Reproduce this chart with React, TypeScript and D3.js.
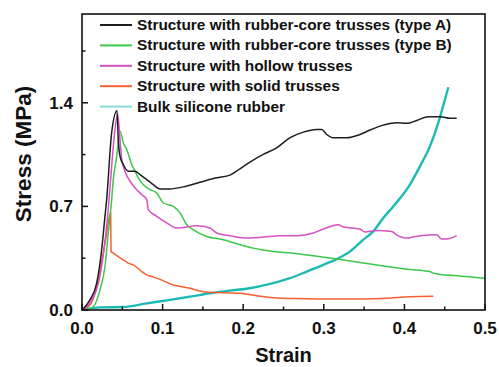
import React from "react";
import * as d3 from "d3";

type P = [number, number];

const typeA: P[] = [
  [0, 0], [0.0099, 0.068], [0.0182, 0.181], [0.0244, 0.407], [0.0285, 0.633], [0.0306, 0.746],
  [0.0368, 1.198], [0.0434, 1.346], [0.045, 1.153], [0.0471, 1.039], [0.0512, 0.983], [0.0574, 0.938],
  [0.0658, 0.938], [0.072, 0.915], [0.0803, 0.881], [0.0885, 0.847], [0.0968, 0.817], [0.1092, 0.818],
  [0.1257, 0.832], [0.1464, 0.863], [0.1671, 0.893], [0.1836, 0.911], [0.196, 0.954], [0.2084, 0.999],
  [0.2249, 1.051], [0.2416, 1.096], [0.2581, 1.164], [0.2746, 1.202], [0.2912, 1.22], [0.2974, 1.22],
  [0.3036, 1.186], [0.3118, 1.164], [0.3284, 1.164], [0.3449, 1.186], [0.3573, 1.216], [0.3738, 1.249],
  [0.3904, 1.266], [0.4029, 1.261], [0.4153, 1.281], [0.4297, 1.306], [0.4442, 1.306], [0.4566, 1.295],
  [0.4649, 1.295],
];

const typeB: P[] = [
  [0, 0], [0.0074, 0.007], [0.014, 0.022], [0.0223, 0.136], [0.0285, 0.294], [0.0326, 0.52],
  [0.0368, 0.746], [0.0388, 0.881], [0.0431, 1.039], [0.0471, 1.209], [0.0512, 1.13], [0.0555, 1.085],
  [0.0617, 0.983], [0.0658, 0.938], [0.0699, 0.893], [0.0761, 0.847], [0.0844, 0.814], [0.0927, 0.791],
  [0.1009, 0.723], [0.1133, 0.7], [0.1216, 0.656], [0.1299, 0.576], [0.1381, 0.542], [0.1547, 0.497],
  [0.1753, 0.475], [0.196, 0.441], [0.2125, 0.418], [0.2373, 0.395], [0.2622, 0.384], [0.287, 0.366],
  [0.316, 0.344], [0.349, 0.317], [0.378, 0.294], [0.4029, 0.276], [0.4318, 0.26], [0.4359, 0.249],
  [0.4649, 0.231], [0.5, 0.215],
];

const hollow: P[] = [
  [0, 0], [0.0124, 0.068], [0.0211, 0.197], [0.0273, 0.407], [0.0323, 0.664], [0.0372, 0.997],
  [0.0409, 1.22], [0.0443, 1.322], [0.0471, 1.153], [0.0493, 1.017], [0.0533, 0.938], [0.0596, 0.87],
  [0.0658, 0.825], [0.0741, 0.78], [0.0803, 0.746], [0.0823, 0.678], [0.0927, 0.633], [0.1051, 0.588],
  [0.1175, 0.554], [0.1423, 0.569], [0.1588, 0.554], [0.1671, 0.52], [0.1836, 0.502], [0.2043, 0.486],
  [0.2249, 0.493], [0.2457, 0.502], [0.2664, 0.502], [0.287, 0.52], [0.2994, 0.547], [0.318, 0.576],
  [0.3242, 0.561], [0.3449, 0.547], [0.3511, 0.527], [0.3656, 0.538], [0.3842, 0.531], [0.3904, 0.508],
  [0.4029, 0.486], [0.4194, 0.502], [0.4401, 0.508], [0.4463, 0.479], [0.4525, 0.479], [0.4649, 0.502],
];

const solid: P[] = [
  [0, 0], [0.0099, 0.034], [0.0174, 0.136], [0.0236, 0.305], [0.0298, 0.495], [0.0356, 0.658],
  [0.036, 0.395], [0.0388, 0.384], [0.045, 0.361], [0.0512, 0.339], [0.0574, 0.317], [0.0636, 0.305],
  [0.0741, 0.26], [0.0803, 0.237], [0.0865, 0.226], [0.0968, 0.207], [0.1133, 0.169], [0.134, 0.147],
  [0.1505, 0.124], [0.1753, 0.117], [0.196, 0.113], [0.2167, 0.097], [0.2373, 0.083], [0.2622, 0.077],
  [0.2953, 0.075], [0.316, 0.075], [0.349, 0.075], [0.378, 0.079], [0.407, 0.09], [0.4359, 0.093],
];

const bulk: P[] = [
  [0, 0], [0.0223, 0.018], [0.0512, 0.02], [0.0803, 0.045], [0.1092, 0.068], [0.134, 0.09],
  [0.1588, 0.113], [0.1836, 0.131], [0.2084, 0.147], [0.2333, 0.176], [0.2581, 0.215], [0.2788, 0.26],
  [0.2994, 0.305], [0.316, 0.344], [0.3325, 0.395], [0.349, 0.475], [0.3614, 0.531], [0.3738, 0.622],
  [0.3862, 0.7], [0.4069, 0.847], [0.4194, 0.972], [0.4318, 1.107], [0.4421, 1.266], [0.4504, 1.424],
  [0.4545, 1.505],
];

const seriesNames = [
  "Structure with rubber-core trusses (type A)",
  "Structure with rubber-core trusses (type B)",
  "Structure with hollow trusses",
  "Structure with solid trusses",
  "Bulk silicone rubber",
];
const seriesData = [typeA, typeB, hollow, solid, bulk];
const seriesColors = ["#1e1e1e", "#3cc84a", "#d452c2", "#f5602e", "#1dbab3"];
const legendColors = ["#1e1e1e", "#3cc84a", "#d452c2", "#f5602e", "#86dcd8"];

const xMajor = [0, 0.1, 0.2, 0.3, 0.4, 0.5];
const xMinor = [0.05, 0.15, 0.25, 0.35, 0.45];
const yMajor = [0, 0.7, 1.4];
const yMinor = [0.35, 1.05, 1.75];

const W = 499, H = 367;
const L = 82, R = 485, T = 14, B = 310;

export default function App() {
  const x = d3.scaleLinear().domain([0, 0.5]).range([L, R]);
  const y = d3.scaleLinear().domain([0, 2.0]).range([B, T]);
  const line = d3.line<P>().x((d) => x(d[0])).y((d) => y(d[1])).curve(d3.curveMonotoneX);
  const font = "'Liberation Sans', Arial, sans-serif";
  const order = [4, 3, 1, 2, 0];
  return (
    <svg width={W} height={H} style={{ position: "absolute", left: 0, top: 0, background: "#fff" }} fontFamily={font}>
      <rect x={0} y={0} width={W} height={H} fill="#fff" />
      <defs>
        <clipPath id="plot">
          <rect x={L} y={T} width={R - L} height={B - T} />
        </clipPath>
      </defs>
      <g clipPath="url(#plot)">
        {order.map((i) => (
          <path key={i} d={line(seriesData[i]) || ""} fill="none" stroke={seriesColors[i]}
            strokeWidth={i === 4 ? 2.4 : 1.5} strokeLinejoin="round" />
        ))}
      </g>
      <rect x={L} y={T} width={R - L} height={B - T} fill="none" stroke="#111" strokeWidth={1.6} />
      {xMajor.map((v) => (
        <line key={"xM" + v} x1={x(v)} x2={x(v)} y1={B} y2={B - 6} stroke="#111" strokeWidth={1.5} />
      ))}
      {xMinor.map((v) => (
        <line key={"xm" + v} x1={x(v)} x2={x(v)} y1={B} y2={B - 3.5} stroke="#111" strokeWidth={1.5} />
      ))}
      {yMajor.map((v) => (
        <line key={"yM" + v} x1={L} x2={L + 6} y1={y(v)} y2={y(v)} stroke="#111" strokeWidth={1.5} />
      ))}
      {yMinor.map((v) => (
        <line key={"ym" + v} x1={L} x2={L + 3.5} y1={y(v)} y2={y(v)} stroke="#111" strokeWidth={1.5} />
      ))}
      {xMajor.map((v) => (
        <text key={"xl" + v} x={x(v)} y={334} textAnchor="middle" fontSize={17} fontWeight="bold" fill="#111">
          {v.toFixed(1)}
        </text>
      ))}
      {yMajor.map((v) => (
        <text key={"yl" + v} x={73} y={y(v) + 6} textAnchor="end" fontSize={17} fontWeight="bold" fill="#111">
          {v.toFixed(1)}
        </text>
      ))}
      <text x={(L + R) / 2} y={362} textAnchor="middle" fontSize={20} fontWeight="bold" fill="#111">Strain</text>
      <text transform={`translate(31,154) rotate(-90)`} textAnchor="middle" fontSize={22.5} fontWeight="bold" fill="#111">
        Stress (MPa)
      </text>
      {seriesNames.map((n, i) => (
        <g key={n} transform={`translate(0,${25 + i * 20.4})`}>
          <line x1={100} x2={132} y1={0} y2={0} stroke={legendColors[i]} strokeWidth={2} />
          <text x={137} y={5} fontSize={15.4} fontWeight="bold" fill="#111">{n}</text>
        </g>
      ))}
    </svg>
  );
}
